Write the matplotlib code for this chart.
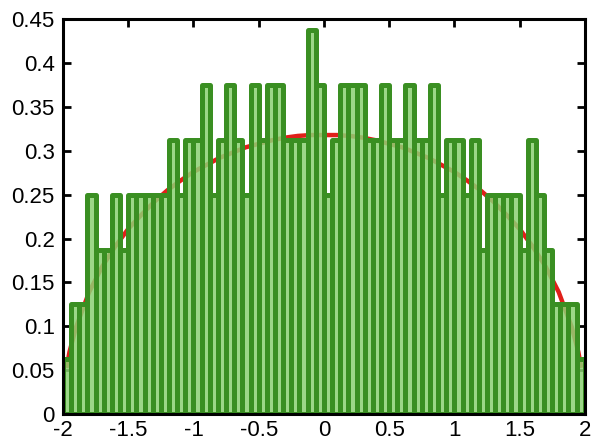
import matplotlib
matplotlib.use("Agg")
import matplotlib.pyplot as plt
import numpy as np

# Histogram: 64 bins on [-2, 2], heights
bin_edges_range = (-2.0, 2.0)
n_bins = 64
heights = [
    0.0625, 0.125, 0.125, 0.25, 0.1875, 0.1875, 0.25, 0.1875,
    0.25, 0.25, 0.25, 0.25, 0.25, 0.3125, 0.25, 0.3125,
    0.3125, 0.375, 0.25, 0.3125, 0.375, 0.3125, 0.25, 0.375,
    0.3125, 0.375, 0.375, 0.3125, 0.3125, 0.3125, 0.4375, 0.375,
    0.25, 0.3125, 0.375, 0.375, 0.375, 0.3125, 0.3125, 0.375,
    0.3125, 0.3125, 0.375, 0.3125, 0.3125, 0.375, 0.25, 0.3125,
    0.3125, 0.25, 0.3125, 0.1875, 0.25, 0.25, 0.25, 0.25,
    0.1875, 0.3125, 0.25, 0.1875, 0.125, 0.125, 0.125, 0.0625,
]

# Red curve points
curve_x = [-1.97, -1.95, -1.9, -1.8, -1.7, -1.6, -1.5, -1.4, -1.3, -1.2, -1.1,
           -1.0, -0.9, -0.8, -0.7, -0.6, -0.5, -0.4, -0.3, -0.2, -0.1, 0.0,
           0.1, 0.2, 0.3, 0.4, 0.5, 0.6, 0.7, 0.8, 0.9, 1.0, 1.1, 1.2, 1.3,
           1.4, 1.5, 1.6, 1.7, 1.8, 1.9, 1.95, 1.97]
curve_y = [0.055, 0.071, 0.099, 0.139, 0.168, 0.191, 0.211, 0.227, 0.242, 0.255, 0.266,
           0.276, 0.284, 0.292, 0.298, 0.304, 0.308, 0.312, 0.315, 0.317, 0.318, 0.318,
           0.318, 0.317, 0.315, 0.312, 0.308, 0.304, 0.298, 0.292, 0.284, 0.276, 0.266,
           0.255, 0.242, 0.227, 0.211, 0.191, 0.168, 0.139, 0.099, 0.071, 0.055]

x_ticks = [-2, -1.5, -1, -0.5, 0, 0.5, 1, 1.5, 2]
x_tick_labels = ["-2", "-1.5", "-1", "-0.5", "0", "0.5", "1", "1.5", "2"]
y_ticks = [0, 0.05, 0.1, 0.15, 0.2, 0.25, 0.3, 0.35, 0.4, 0.45]
y_tick_labels = ["0", "0.05", "0.1", "0.15", "0.2", "0.25", "0.3", "0.35", "0.4", "0.45"]

plt.rcParams['font.family'] = ['Liberation Sans', 'DejaVu Sans']

fig = plt.figure(figsize=(6.06, 4.44), dpi=100)
ax = fig.add_axes([0.104, 0.0676, 0.861, 0.889])

edges = np.linspace(bin_edges_range[0], bin_edges_range[1], n_bins + 1)
lefts = edges[:-1]
width = edges[1] - edges[0]

ax.plot(curve_x, curve_y, color='#e0201a', linewidth=3.2, zorder=1)
ax.bar(lefts, heights, width=width, align='edge', facecolor=(0.55, 0.82, 0.45, 0.85),
       edgecolor='#3a8f22', linewidth=3.6, zorder=2, joinstyle='round')

ax.set_xlim(-2, 2)
ax.set_ylim(0, 0.45)
ax.set_xticks(x_ticks)
ax.set_xticklabels(x_tick_labels)
ax.set_yticks(y_ticks)
ax.set_yticklabels(y_tick_labels)
ax.tick_params(direction='in', length=6, width=2, labelsize=16, top=True, right=True)
ax.tick_params(axis='x', pad=4)
ax.tick_params(axis='y', pad=6)
for s in ax.spines.values():
    s.set_linewidth(2.2)
    s.set_zorder(5)

fig.savefig('out.png', dpi=100)
